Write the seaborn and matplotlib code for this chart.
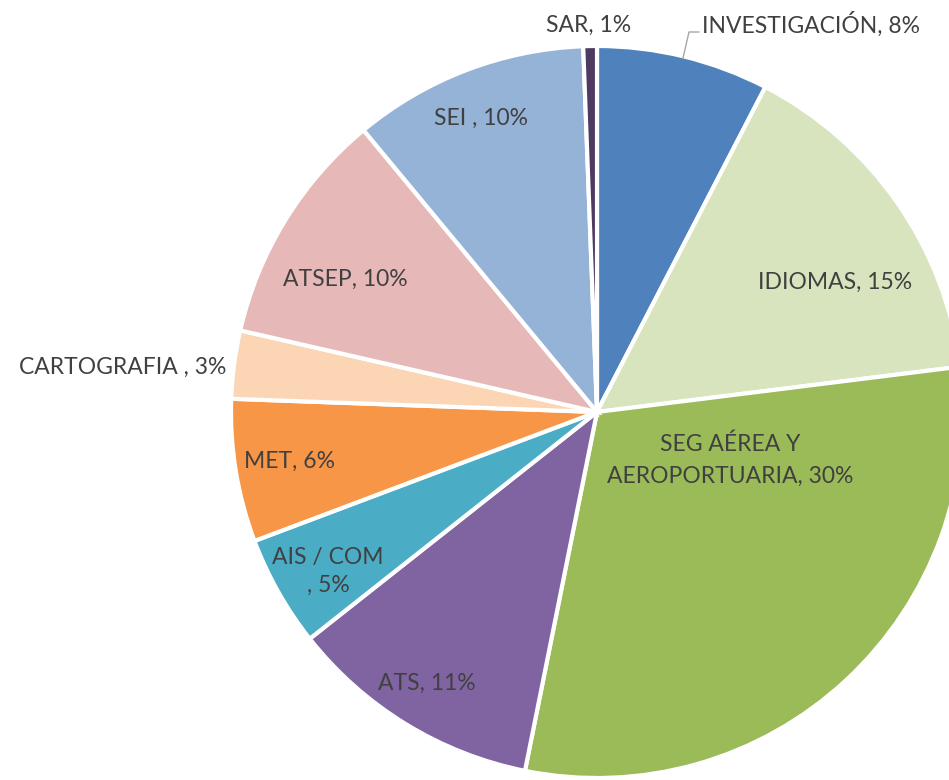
import matplotlib
matplotlib.use("Agg")
import matplotlib.pyplot as plt
import seaborn as sns

sns.set_theme(style="white")
plt.rcParams["font.family"] = ["Lato", "DejaVu Sans"]

# Share of training hours by area (percent), clockwise from 12 o'clock
areas = ["INVESTIGACIÓN", "IDIOMAS", "SEG AÉREA Y\nAEROPORTUARIA", "ATS",
         "AIS / COM\n", "MET", "CARTOGRAFIA ", "ATSEP", "SEI ", "SAR"]
shares = [7.6, 15.4, 30.1, 11.2, 4.9, 6.3, 3.0, 10.4, 10.4, 0.6]
colors = ["#4F81BD", "#D7E4BD", "#9BBB59", "#8064A2", "#4BACC6",
          "#F79646", "#FCD5B5", "#E6B9B8", "#95B3D7", "#4E3B62"]

W, H = 949, 780
cx, cy, R = 597, 412, 366

fig = plt.figure(figsize=(W / 100, H / 100), dpi=100)
ax = fig.add_axes([0, 0, 1, 1])
wedges, _ = ax.pie(shares, colors=colors, startangle=90, counterclock=False,
                   radius=1.0, wedgeprops=dict(edgecolor="white", linewidth=3))
ax.set_xlim(-cx / R, (W - cx) / R)
ax.set_ylim(-(H - cy) / R, cy / R)
ax.set_aspect("equal")
ax.axis("off")


def px(x, y):
    """Convert canvas pixel position to pie data coordinates."""
    return (x - cx) / R, (cy - y) / R


# label anchor (pixel position), horizontal alignment and line spacing per slice
anchors = {
    "INVESTIGACIÓN": ((702, 24), "left", 1.2),
    "IDIOMAS": ((835, 282), "center", 1.2),
    "SEG AÉREA Y\nAEROPORTUARIA": ((730, 460), "center", 1.6),
    "ATS": ((427, 683), "center", 1.2),
    "AIS / COM\n": ((328, 571), "center", 1.4),
    "MET": ((290, 461), "center", 1.2),
    "CARTOGRAFIA ": ((226, 367), "right", 1.2),
    "ATSEP": ((345, 279), "center", 1.2),
    "SEI ": ((481, 118), "center", 1.2),
    "SAR": ((589, 25), "center", 1.2),
}

for name, v in zip(areas, shares):
    (x, y), ha, ls = anchors[name]
    ax.text(*px(x, y), f"{name}, {v:.0f}%", ha=ha, va="center",
            fontsize=16.5, color="#404040", linespacing=ls)

# leader line for the small label above the pie
ax.plot(*zip(px(683, 58), px(689, 32), px(699, 32)), color="#A6A6A6", lw=1)

fig.savefig("out.png", dpi=100, facecolor="white")
